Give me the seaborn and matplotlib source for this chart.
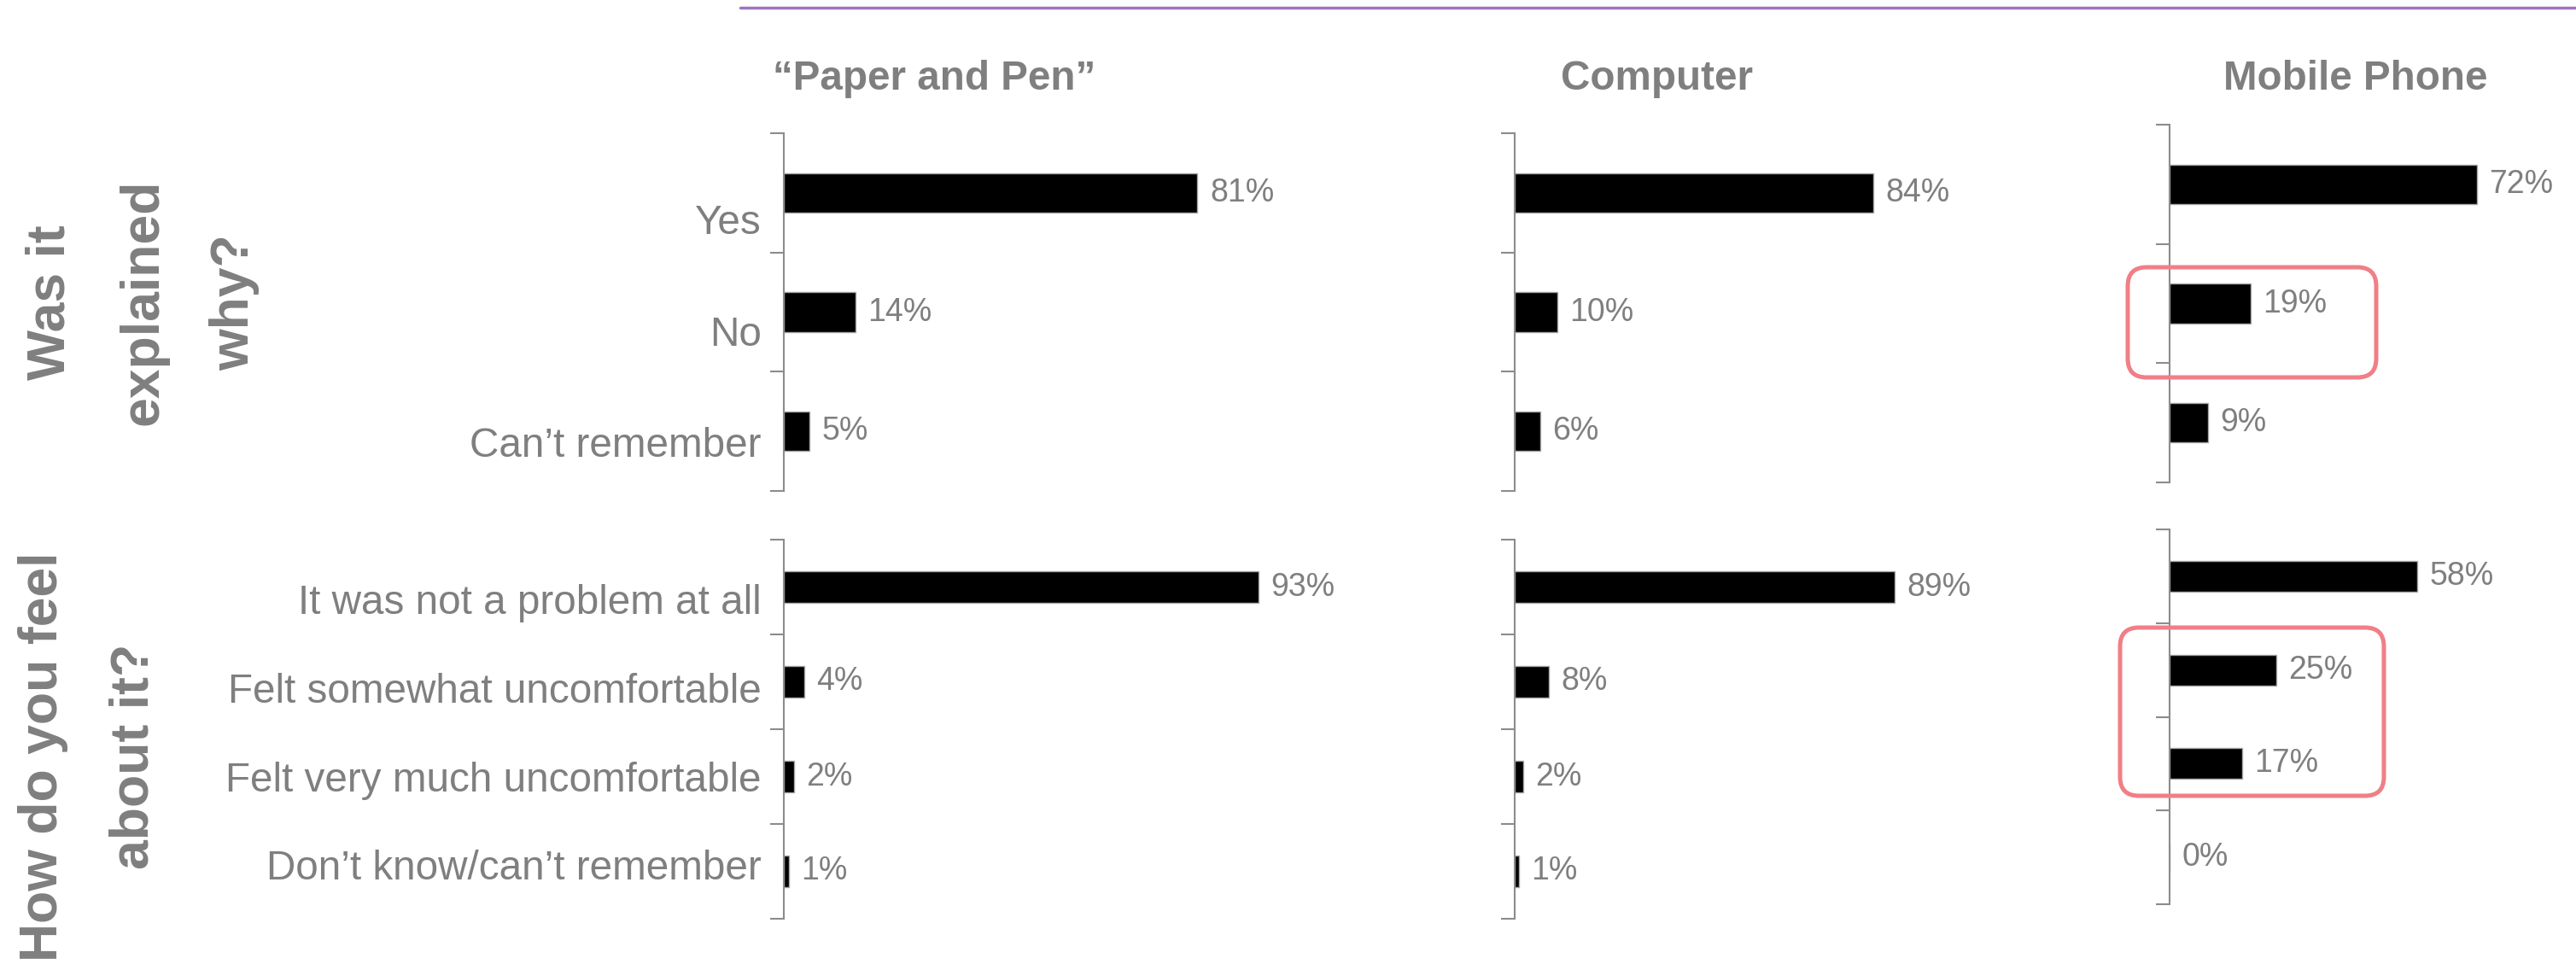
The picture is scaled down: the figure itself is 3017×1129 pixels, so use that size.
import numpy as np
import matplotlib
matplotlib.use("Agg")
import matplotlib.pyplot as plt
import matplotlib.patches as mpatches
from matplotlib.lines import Line2D
from matplotlib.transforms import IdentityTransform
import seaborn as sns

# Data
explained_cats = ["Yes", "No", "Can’t remember"]
feel_cats = ["It was not a problem at all", "Felt somewhat uncomfortable",
             "Felt very much uncomfortable", "Don’t know/can’t remember"]

paper_explained = [81, 14, 5]
computer_explained = [84, 10, 6]
mobile_explained = [72, 19, 9]

paper_feel = [93, 4, 2, 1]
computer_feel = [89, 8, 2, 1]
mobile_feel = [58, 25, 17, 0]

headers = ["“Paper and Pen”", "Computer", "Mobile Phone"]
row_titles = [["Was it", "explained", "why?"], ["How do you feel", "about it?"]]

sns.set_style("white")
plt.rcParams["font.family"] = ["Liberation Sans", "DejaVu Sans"]

W, H = 3017, 1129
fig = plt.figure(figsize=(W / 100, H / 100), dpi=100)

GRAY = "#7f7f7f"
AXGRAY = "#8c8c8c"


def px_axes(left, top, width, bottom):
    # axes from pixel coords (origin top-left)
    return fig.add_axes([left / W, 1 - bottom / H, width / W, (bottom - top) / H])


def draw_panel(ax, cats, vals, xmax, show_labels, label_offset):
    sns.barplot(x=vals, y=cats, orient="h", color="black", width=0.33,
                edgecolor="#a6a6a6", linewidth=1, ax=ax)
    n = len(cats)
    ax.set_xlim(0, xmax)
    ax.set_ylim(n - 0.5, -0.5)
    ax.set_xlabel("")
    ax.set_ylabel("")
    ax.set_xticks([])
    # category labels sit a little off the bar centres, like in the original
    ax.set_yticks(label_offset + 0.934 * np.arange(n), labels=cats)
    ax.set_yticks(np.arange(-0.5, n, 1.0), minor=True)
    ax.tick_params(axis="y", which="major", length=0, pad=19,
                   labelsize=34.3, labelcolor=GRAY, labelleft=show_labels)
    ax.tick_params(axis="y", which="minor", length=11.5, width=1.5, color=AXGRAY, left=True)
    for s in ["top", "right", "bottom"]:
        ax.spines[s].set_visible(False)
    ax.spines["left"].set_color(AXGRAY)
    ax.spines["left"].set_linewidth(1.5)
    ax.bar_label(ax.containers[0], labels=[f"{v}%" for v in vals],
                 padding=10.5, fontsize=27, color=GRAY)


# Paper and Pen
ax = px_axes(918, 156, 598, 575)
draw_panel(ax, explained_cats, paper_explained, 100, True, 0.22)
ax = px_axes(918, 632, 598, 1076)
draw_panel(ax, feel_cats, paper_feel, 100, True, 0.13)

# Computer
ax = px_axes(1774, 156, 500, 575)
draw_panel(ax, explained_cats, computer_explained, 100, False, 0.22)
ax = px_axes(1774, 632, 500, 1076)
draw_panel(ax, feel_cats, computer_feel, 100, False, 0.13)

# Mobile Phone
ax = px_axes(2541, 146, 475, 565)
draw_panel(ax, explained_cats, mobile_explained, 95, False, 0.22)
ax = px_axes(2541, 620, 475, 1059)
draw_panel(ax, feel_cats, mobile_feel, 95, False, 0.13)

# column headers
fig.text(905 / W, 1 - 105 / H, headers[0], ha="left", va="baseline",
         fontsize=34.3, fontweight="bold", color=GRAY)
fig.text(1940 / W, 1 - 105 / H, headers[1], ha="center", va="baseline",
         fontsize=34.3, fontweight="bold", color=GRAY)
fig.text(2759 / W, 1 - 105 / H, headers[2], ha="center", va="baseline",
         fontsize=34.3, fontweight="bold", color=GRAY)

# rotated row titles
for line, x in zip(row_titles[0], [76, 185, 291]):
    fig.text(x / W, 1 - 354 / H, line, rotation=90, rotation_mode="anchor",
             ha="center", va="baseline", fontsize=45, fontweight="bold", color=GRAY)
for line, x in zip(row_titles[1], [67, 174]):
    fig.text(x / W, 1 - 886 / H, line, rotation=90, rotation_mode="anchor",
             ha="center", va="baseline", fontsize=45, fontweight="bold", color=GRAY)

# purple rule at the top
fig.add_artist(Line2D([867 / W, 1], [1 - 9 / H, 1 - 9 / H], transform=fig.transFigure,
                      color="#a173c0", linewidth=2.5))

# red highlight boxes around the mobile answers
for x0, y0, x1, y1 in [(2492, 313, 2783, 442), (2483, 735, 2792, 932)]:
    box = mpatches.FancyBboxPatch((x0, H - y1), x1 - x0, y1 - y0,
                                  boxstyle="round,pad=0,rounding_size=22",
                                  transform=IdentityTransform(), fill=False,
                                  edgecolor="#f07f87", linewidth=3.6)
    fig.add_artist(box)

fig.savefig("out.png", dpi=100)
